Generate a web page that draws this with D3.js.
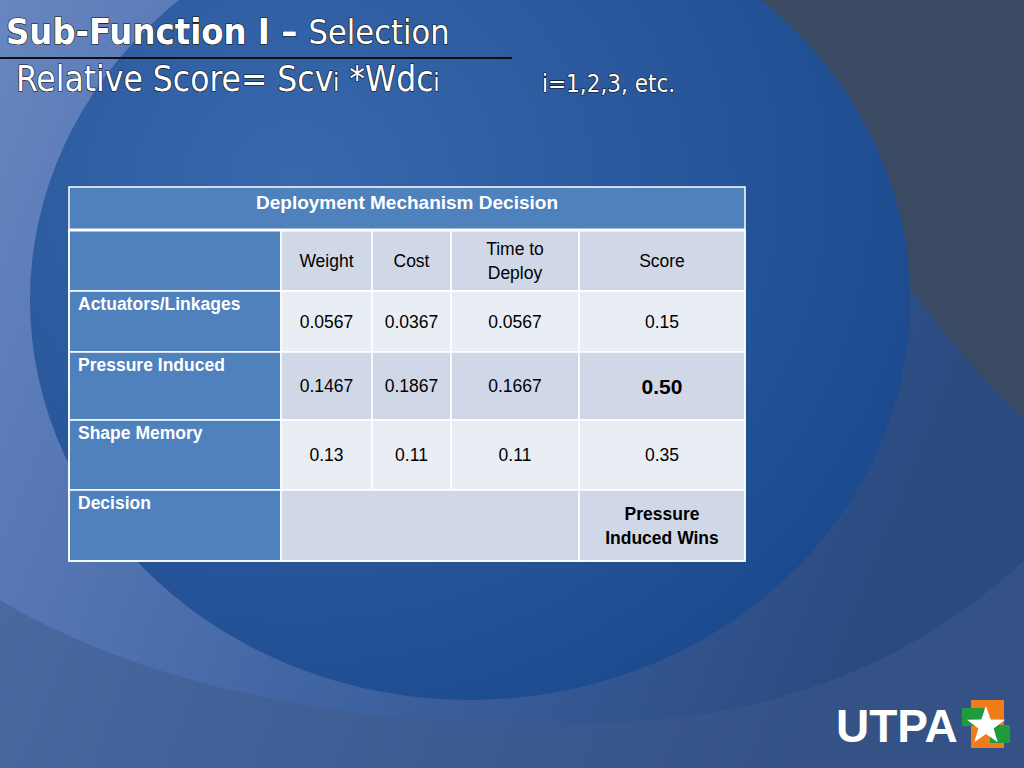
<!DOCTYPE html><html><head><meta charset="utf-8"><script src="https://cdn.jsdelivr.net/npm/d3@7"></script>
<style>body{margin:0;overflow:hidden}</style></head><body><svg id="s" width="1024" height="768"></svg>
<script>
const tableTitle = "Deployment Mechanism Decision";
const columns = ["Weight","Cost","Time to|Deploy","Score"];
const options = ["Actuators/Linkages","Pressure Induced","Shape Memory","Decision"];
const weightVals = ["0.0567","0.1467","0.13"];
const costVals = ["0.0367","0.1867","0.11"];
const timeVals = ["0.0567","0.1667","0.11"];
const scoreVals = ["0.15","0.50","0.35"];
const decisionText = "Pressure|Induced Wins";

const svg = d3.select("#s");
const defs = svg.append("defs");
const g1 = defs.append("linearGradient").attr("id","bg").attr("x1","0").attr("y1","0").attr("x2","1").attr("y2","0.3");
g1.append("stop").attr("offset","0").attr("stop-color","#6886c0");
g1.append("stop").attr("offset","0.5").attr("stop-color","#4266a5");
g1.append("stop").attr("offset","1").attr("stop-color","#2a4a80");
const g2 = defs.append("radialGradient").attr("id","el").attr("cx","0.3").attr("cy","0.35").attr("r","0.75");
g2.append("stop").attr("offset","0").attr("stop-color","#3a68ac");
g2.append("stop").attr("offset","1").attr("stop-color","#1b4a8e");
svg.append("rect").attr("width",1024).attr("height",768).attr("fill","#3a4a62");
svg.append("path").attr("d","M0,0 L700,0 C800,120 900,300 1024,420 L1024,768 L0,768 Z").attr("fill","url(#bg)");
svg.append("ellipse").attr("cx",470).attr("cy",300).attr("rx",440).attr("ry",400).attr("fill","url(#el)");
svg.append("path").attr("d","M0,600 C200,720 500,740 700,715 C850,690 950,630 1024,560 L1024,768 L0,768 Z").attr("fill","#3e5a8a").attr("opacity",0.5);

const ts = "font-family:'DejaVu Sans Condensed','DejaVu Sans',sans-serif;font-stretch:condensed;fill:#fff;stroke:#111;stroke-width:1.2;paint-order:stroke";
svg.append("text").attr("x",6).attr("y",44).attr("style",ts).attr("font-size",36).attr("font-weight","bold")
  .html('Sub-Function I – <tspan font-weight="normal" font-size="34">Selection</tspan>');
svg.append("line").attr("x1",0).attr("x2",512).attr("y1",58).attr("y2",58).attr("stroke","#111").attr("stroke-width",2);
svg.append("text").attr("x",16).attr("y",91).attr("style",ts).attr("font-size",35)
  .html('Relative Score= Scv<tspan font-size="24">i</tspan>  *Wdc<tspan font-size="24">i</tspan>');
svg.append("text").attr("x",542).attr("y",92).attr("style",ts).attr("font-size",24).text("i=1,2,3, etc.");

const colX = d3.scaleOrdinal().domain([0,1,2,3,4,5]).range([69,281,372,451,579,745]);
const rowY = [187,230,291,352,420,490,561];
const light = ["#d0d8e8","#e9edf4"];
const T = svg.append("g").attr("font-family","'Liberation Sans',Arial,sans-serif");
T.append("rect").attr("x",69).attr("y",187).attr("width",676).attr("height",43).attr("fill","#4f81bd");
T.append("text").attr("x",407).attr("y",202).attr("dy","0.35em").attr("text-anchor","middle").attr("fill","#fff")
  .attr("font-weight","bold").attr("font-size",19).text(tableTitle);
for(let r=1;r<6;r++){
  const cells = r===5 ? [0,1,4] : [0,1,2,3,4];
  cells.forEach(c=>{
    const c2 = (r===5 && c===1) ? 4 : c+1;
    const fill = c===0 ? "#4f81bd" : light[(r+1)%2];
    T.append("rect").attr("x",colX(c)).attr("y",rowY[r]).attr("width",colX(c2)-colX(c)).attr("height",rowY[r+1]-rowY[r])
      .attr("fill",fill).attr("stroke","#fff").attr("stroke-width",1.5);
  });
}
T.append("rect").attr("x",69).attr("y",187).attr("width",676).attr("height",374).attr("fill","none").attr("stroke","#fff").attr("stroke-width",1.5);
T.append("line").attr("x1",69).attr("x2",745).attr("y1",230).attr("y2",230).attr("stroke","#fff").attr("stroke-width",3);
function cellText(c,r,txt,opt={}){
  const cx=(colX(c)+colX(c+1))/2, cy=(rowY[r]+rowY[r+1])/2 + (opt.dy||0);
  const lines=txt.split("|");
  lines.forEach((l,i)=>T.append("text").attr("x",cx).attr("y",cy+(i-(lines.length-1)/2)*24).attr("dy","0.35em")
    .attr("text-anchor","middle").attr("fill","#000").attr("font-size",opt.size||17.5).attr("font-weight",opt.bold?"bold":"normal").text(l));
}
columns.forEach((t,i)=>cellText(i+1,1,t));
const series=[weightVals,costVals,timeVals,scoreVals];
series.forEach((vals,c)=>vals.forEach((v,r)=>cellText(c+1,r+2,v,{bold:(c===3&&r===1),size:(c===3&&r===1)?21:17.5,dy:(r===1&&c===3)?1:0})));
options.forEach((o,r)=>T.append("text").attr("x",78).attr("y",rowY[r+2]+13).attr("dy","0.35em").attr("fill","#fff")
  .attr("font-weight","bold").attr("font-size",17.5).text(o));
cellText(4,5,decisionText,{bold:true});

svg.append("text").attr("x",836).attr("y",742).attr("font-family","'Liberation Sans',Arial,sans-serif").attr("font-weight","bold")
  .attr("font-size",46).attr("fill","#fff").text("UTPA");
svg.append("rect").attr("x",971).attr("y",700).attr("width",33).attr("height",48).attr("fill","#f07d1a");
svg.append("rect").attr("x",962).attr("y",708).attr("width",22).attr("height",18).attr("fill","#1f9a3c");
svg.append("rect").attr("x",990).attr("y",725).attr("width",20).attr("height",18).attr("fill","#1f9a3c");
const star=d3.range(10).map(i=>{const a=-Math.PI/2+i*Math.PI/5, rr=i%2?8:20;return [986+rr*Math.cos(a),726+rr*Math.sin(a)];});
svg.append("polygon").attr("points",star.map(p=>p.join(",")).join(" ")).attr("fill","#fff");
</script></body></html>
